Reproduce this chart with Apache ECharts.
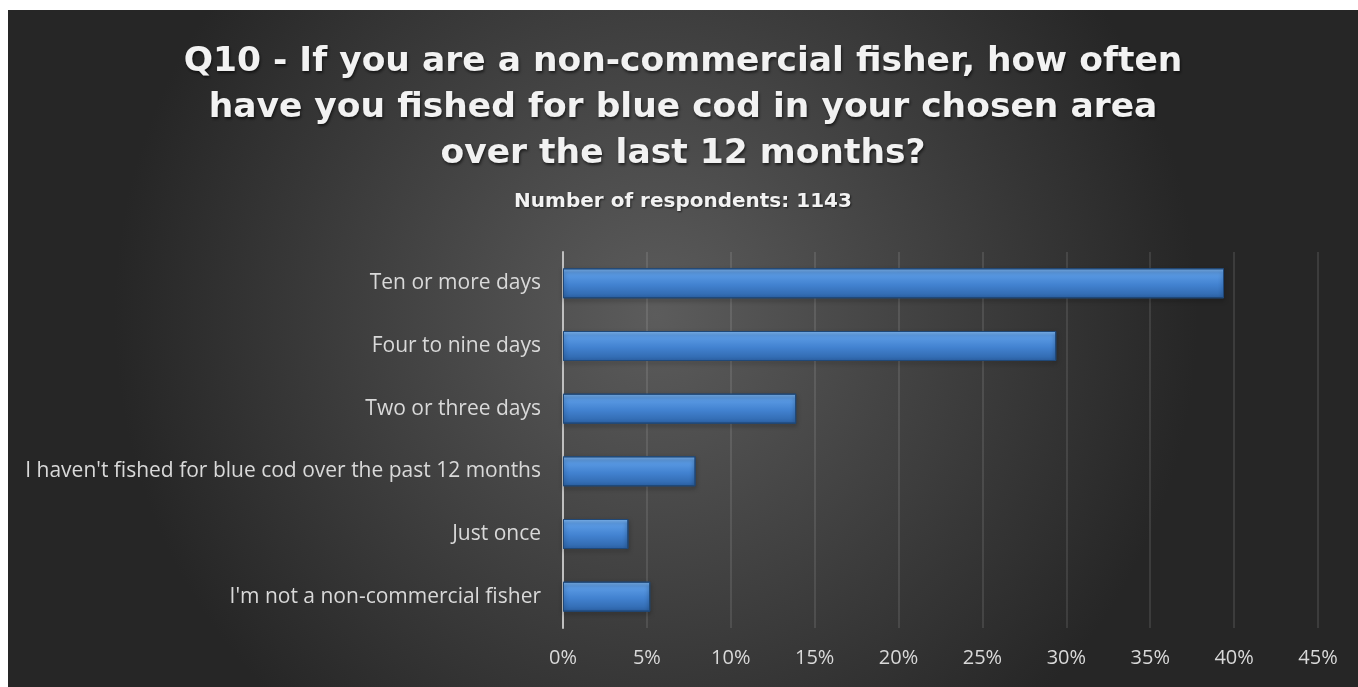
<!DOCTYPE html>
<html lang="en">
<head>
	<meta charset="UTF-8">
	<title>Q10 blue cod</title>
	<script src="https://cdn.jsdelivr.net/npm/echarts@6/dist/echarts.min.js"></script>
	<style>
		body{margin:0;background:#fff;}
		#main{position:absolute;left:8px;top:10px;width:1350px;height:677px;}
	</style>
</head>
<body>
	<div id="main"></div>
	<script>
		// data
		var categories = ["Ten or more days", "Four to nine days", "Two or three days",
			"I haven't fished for blue cod over the past 12 months", "Just once", "I'm not a non-commercial fisher"];
		var percents = [39.4, 29.4, 13.9, 7.9, 3.9, 5.2];
		var tickLabels = ["0%", "5%", "10%", "15%", "20%", "25%", "30%", "35%", "40%", "45%"];

		var myChart = echarts.init(document.getElementById("main"));
		var font = "Open Sans";
		var titleFont = "DejaVu Sans";
		myChart.setOption({
			backgroundColor: new echarts.graphic.RadialGradient(0.48, 0.45, 0.8, [
				{offset: 0, color: "#5c5c5c"},
				{offset: 1, color: "#262626"}
			]),
			title: [{
				text: "Q10 - If you are a non-commercial fisher, how often\nhave you fished for blue cod in your chosen area\nover the last 12 months?",
				left: "center",
				top: 24,
				textStyle: {
					color: "#f2f2f2", fontSize: 34.5, fontWeight: "bold", fontFamily: titleFont, lineHeight: 46,
					textShadowColor: "rgba(0,0,0,0.6)", textShadowBlur: 3, textShadowOffsetX: 1, textShadowOffsetY: 2
				}
			}, {
				text: "Number of respondents: 1143",
				left: "center",
				top: 177,
				textStyle: {
					color: "#f2f2f2", fontSize: 20, fontWeight: "bold", fontFamily: titleFont,
					textShadowColor: "rgba(0,0,0,0.6)", textShadowBlur: 2, textShadowOffsetX: 1, textShadowOffsetY: 1
				}
			}],
			grid: {left: 555, right: 40, top: 242, bottom: 59},
			xAxis: {
				type: "value",
				min: 0, max: 45, interval: 5,
				axisLine: {show: false},
				axisTick: {show: false},
				axisLabel: {
					color: "#d9d9d9", fontSize: 20, fontFamily: font, margin: 20,
					formatter: function (v) { return tickLabels[Math.round(v / 5)]; }
				},
				splitLine: {lineStyle: {color: "rgba(255,255,255,0.1)", width: 2}}
			},
			yAxis: {
				type: "category",
				inverse: true,
				data: categories,
				axisLine: {lineStyle: {color: "#bfbfbf", width: 2}},
				axisTick: {show: false},
				axisLabel: {color: "#d9d9d9", fontSize: 21, fontFamily: font, margin: 22}
			},
			series: [{
				type: "bar",
				data: percents,
				barWidth: 30,
				itemStyle: {
					color: new echarts.graphic.LinearGradient(0, 0, 0, 1, [
						{offset: 0, color: "#84bdf8"},
						{offset: 0.15, color: "#5d9de6"},
						{offset: 0.55, color: "#4282d0"},
						{offset: 1, color: "#2d64a8"}
					]),
					borderColor: "#1f4878",
					borderWidth: 1,
					shadowColor: "rgba(0,0,0,0.5)",
					shadowBlur: 4,
					shadowOffsetY: 2
				}
			}]
		});
	</script>
</body>
</html>
